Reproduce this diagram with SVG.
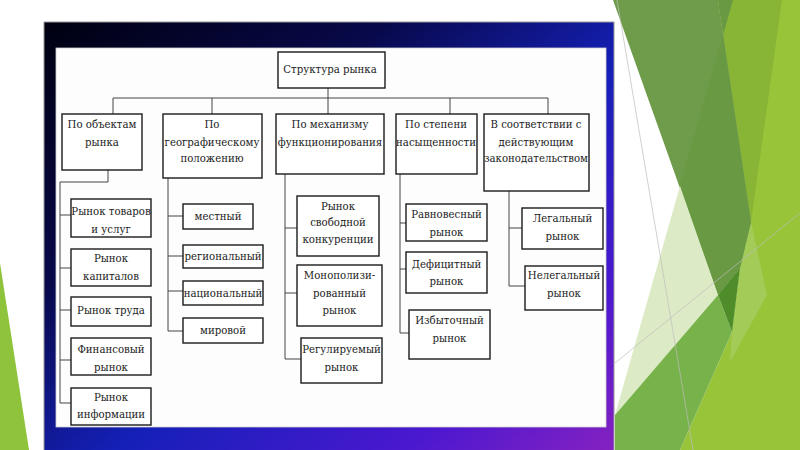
<svg xmlns="http://www.w3.org/2000/svg" width="800" height="450" viewBox="0 0 800 450">
<defs>
<linearGradient id="frameGrad" x1="0" y1="0" x2="1" y2="1">
<stop offset="0" stop-color="#000010"/>
<stop offset="0.3" stop-color="#08094a"/>
<stop offset="0.55" stop-color="#1520b8"/>
<stop offset="0.8" stop-color="#4a18d0"/>
<stop offset="1" stop-color="#8a22c0"/>
</linearGradient>
<style>
.box{fill:#ffffff;stroke:#1a1a1a;stroke-width:1.4}
.t{font-family:'DejaVu Serif Condensed','DejaVu Serif',serif;font-stretch:condensed;font-size:11.3px;fill:#222;text-anchor:middle}
.c{stroke:#444;stroke-width:1;fill:none}
.gl{stroke:#bdbdbd;stroke-width:0.7;fill:none}
</style>
</defs>
<rect x="0" y="0" width="800" height="450" fill="#ffffff"/>
<g id="decor">
<polygon points="0,263 29,450 0,450" fill="#8fc33c"/>
<polygon points="718,0 800,0 800,450 680,450 732,332 740,268 751,222" fill="#98c43a"/>
<polygon points="718,0 782,0 751,222" fill="#88b535"/>
<polygon points="751,222 767,295 730,362 732,332 740,268" fill="#a2cb58"/>
<polygon points="613,0 718,0 751,222 740,268 718,295" fill="#6e9c4a"/>
<polygon points="733,0 680,186 718,295 740,268 751,222 718,0" fill="#6a9944"/>
<polygon points="680,186 615,415 718,295" fill="#dcebc6"/>
<polygon points="615,415 718,295 732,332 680,450 615,450" fill="#78b24a"/>
<polygon points="718,295 740,268 732,332" fill="#4f8c2a"/>
<line class="gl" x1="617" y1="0" x2="693" y2="450"/>
<line class="gl" x1="615" y1="363" x2="800" y2="213"/>
</g>
<rect id="frame" x="44" y="22" width="570" height="440" fill="url(#frameGrad)" stroke="#9a9a9a" stroke-width="1"/>
<rect id="sheet" x="56" y="48" width="550" height="379" fill="#fdfdfd" stroke="#cfcfcf" stroke-width="0.8"/>
<g id="connectors">
<path class="c" d="M328,88 V98 M113,98 H548 M113,98 V114 M212,98 V114 M328,98 V114 M450,98 V114 M548,98 V114"/>
<path class="c" d="M108,170 V182 H60 V403 M60,215 H71 M60,268 H71 M60,310 H71 M60,360 H71 M60,403 H71"/>
<path class="c" d="M168,178 V331 M168,216 H183 M168,256 H183 M168,291 H183 M168,331 H183"/>
<path class="c" d="M285,174 V359 M285,228 H297 M285,293 H297 M285,359 H301"/>
<path class="c" d="M400,174 V333 M400,223 H406 M400,269 H406 M400,333 H409"/>
<path class="c" d="M509,191 V286 M509,228 H522 M509,286 H525"/>
</g>
<g id="nodes">
<g id="root"><rect class="box" x="278" y="52" width="107" height="36"/><text class="t" x="330" y="73">Структура рынка</text></g>
<g id="cat1"><rect class="box" x="62" y="114" width="80" height="56"/><text class="t" x="102" y="128">По объектам</text><text class="t" x="102" y="146">рынка</text></g>
<g id="cat2"><rect class="box" x="163" y="114" width="99" height="64"/><text class="t" x="212" y="128">По</text><text class="t" x="212" y="146">географическому</text><text class="t" x="212" y="162">положению</text></g>
<g id="cat3"><rect class="box" x="276" y="114" width="108" height="60"/><text class="t" x="330" y="128">По механизму</text><text class="t" x="330" y="146">функционирования</text></g>
<g id="cat4"><rect class="box" x="396" y="114" width="81" height="60"/><text class="t" x="436" y="128">По степени</text><text class="t" x="436" y="146">насыщенности</text></g>
<g id="cat5"><rect class="box" x="484" y="114" width="105" height="77"/><text class="t" x="536" y="128">В соответствии с</text><text class="t" x="536" y="146">действующим</text><text class="t" x="536" y="162">законодательством</text></g>
<g id="n11"><rect class="box" x="71" y="199" width="80" height="38"/><text class="t" x="111" y="215">Рынок товаров</text><text class="t" x="111" y="233">и услуг</text></g>
<g id="n12"><rect class="box" x="71" y="249" width="80" height="37"/><text class="t" x="111" y="262">Рынок</text><text class="t" x="111" y="280">капиталов</text></g>
<g id="n13"><rect class="box" x="71" y="297" width="80" height="29"/><text class="t" x="111" y="314">Рынок труда</text></g>
<g id="n14"><rect class="box" x="71" y="338" width="80" height="37"/><text class="t" x="111" y="353">Финансовый</text><text class="t" x="111" y="371">рынок</text></g>
<g id="n15"><rect class="box" x="71" y="388" width="80" height="37"/><text class="t" x="111" y="401">Рынок</text><text class="t" x="111" y="418">информации</text></g>
<g id="n21"><rect class="box" x="183" y="204" width="70" height="25"/><text class="t" x="218" y="220">местный</text></g>
<g id="n22"><rect class="box" x="183" y="245" width="80" height="23"/><text class="t" x="223" y="260">региональный</text></g>
<g id="n23"><rect class="box" x="183" y="281" width="80" height="24"/><text class="t" x="223" y="297">национальный</text></g>
<g id="n24"><rect class="box" x="183" y="318" width="80" height="25"/><text class="t" x="223" y="334">мировой</text></g>
<g id="n31"><rect class="box" x="297" y="196" width="82" height="60"/><text class="t" x="338" y="210">Рынок</text><text class="t" x="338" y="226">свободной</text><text class="t" x="338" y="243">конкуренции</text></g>
<g id="n32"><rect class="box" x="297" y="265" width="85" height="61"/><text class="t" x="339.5" y="279">Монополизи-</text><text class="t" x="339.5" y="297">рованный</text><text class="t" x="339.5" y="314">рынок</text></g>
<g id="n33"><rect class="box" x="301" y="338" width="81" height="45"/><text class="t" x="341.5" y="353">Регулируемый</text><text class="t" x="341.5" y="371">рынок</text></g>
<g id="n41"><rect class="box" x="406" y="204" width="81" height="37"/><text class="t" x="446.5" y="218">Равновесный</text><text class="t" x="446.5" y="236">рынок</text></g>
<g id="n42"><rect class="box" x="406" y="252" width="81" height="41"/><text class="t" x="446.5" y="268">Дефицитный</text><text class="t" x="446.5" y="285">рынок</text></g>
<g id="n43"><rect class="box" x="409" y="310" width="81" height="49"/><text class="t" x="449.5" y="324">Избыточный</text><text class="t" x="449.5" y="342">рынок</text></g>
<g id="n51"><rect class="box" x="522" y="208" width="81" height="41"/><text class="t" x="562.5" y="222">Легальный</text><text class="t" x="562.5" y="240">рынок</text></g>
<g id="n52"><rect class="box" x="525" y="266" width="78" height="44"/><text class="t" x="564" y="279">Нелегальный</text><text class="t" x="564" y="297">рынок</text></g>
</g>
</svg>
